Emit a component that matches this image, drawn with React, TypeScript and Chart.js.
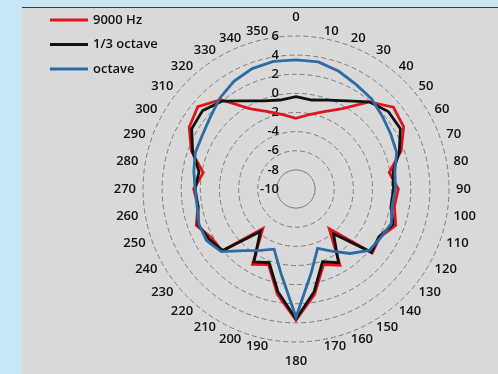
import React, { useEffect, useRef } from "react";
import { Chart, registerables } from "chart.js";

Chart.register(...registerables);

// Angle categories (degrees), clockwise from the top
const angleLabels = [
  "0", "10", "20", "30", "40", "50", "60", "70", "80", "90", "100", "110",
  "120", "130", "140", "150", "160", "170", "180", "190", "200", "210", "220", "230",
  "240", "250", "260", "270", "280", "290", "300", "310", "320", "330", "340", "350",
];

// Radial tick labels (dB)
const radialTicks = [-10, -8, -6, -4, -2, 0, 2, 4, 6];

// Series values, one per angle
const hz9000 = [
  -2.6, -2.1, -1.4, -0.3, 1.9, 3.3, 3.0, 1.7, -0.1, 0.7, 0.45, 1.1,
  0.1, 0.4, -4.6, -0.8, -1.6, 1.2, 3.7, 1.2, -1.6, -0.9, -4.6, 0.1,
  0.2, 1.1, 0.4, 0.7, -0.15, 1.65, 2.9, 3.4, 2.2, -0.3, -1.4, -2.1,
];
const thirdOctave = [
  -0.35, -0.55, -0.1, 0.65, 1.9, 2.6, 2.6, 1.5, 0.3, 0.2, 0.1, 0.8,
  0.0, 0.3, -3.9, -1.1, -1.9, 0.9, 3.6, 0.9, -1.8, -1.2, -4.2, 0.0,
  0.5, 0.9, 0.4, 0.55, 0.3, 1.5, 2.6, 2.75, 2.0, 0.65, -0.2, -0.55,
];
const octave = [
  3.5, 3.5, 3.1, 2.6, 2.3, 1.8, 1.45, 1.2, 0.5, 0.4, 0.2, 0.6,
  0.2, 0.0, -1.2, -2.5, -3.4, -1.0, 3.4, -1.0, -3.3, -2.6, -1.6, 0.2,
  0.8, 0.8, 0.5, 0.55, 0.85, 1.2, 1.3, 1.7, 2.4, 3.0, 3.4, 3.55,
];

const seriesNames = ["9000 Hz", "1/3 octave", "octave"];
const seriesColors = ["#e2141c", "#111111", "#2d6ba3"];

const TEXT_FONT = '600 13px "Open Sans", "Noto Sans", sans-serif';

const textPlugin = {
  id: "polarText",
  beforeDatasetsDraw(chart: any) {
    const s = chart.scales.r;
    const ctx = chart.ctx;
    ctx.save();
    ctx.font = TEXT_FONT;
    ctx.fillStyle = "#111111";
    // radial tick labels along the vertical axis
    ctx.textAlign = "right";
    ctx.textBaseline = "middle";
    radialTicks.forEach((v) => {
      const d = s.getDistanceFromCenterForValue(v);
      ctx.fillText(String(v), s.xCenter - 17, s.yCenter - d);
    });
    // angle labels
    const n = angleLabels.length;
    angleLabels.forEach((lab, i) => {
      const deg = (360 / n) * i;
      const onAxis = deg % 180 === 0;
      const dist = s.drawingArea + (onAxis ? 19 : 7);
      const p = s.getPointPosition(i, dist);
      ctx.textBaseline = "middle";
      ctx.textAlign = onAxis ? "center" : deg < 180 ? "left" : "right";
      ctx.fillText(lab, p.x, p.y);
    });
    ctx.restore();
  },
  afterDraw(chart: any) {
    const ctx = chart.ctx;
    ctx.save();
    ctx.font = TEXT_FONT;
    ctx.textAlign = "left";
    ctx.textBaseline = "middle";
    chart.data.datasets.forEach((ds: any, i: number) => {
      const y = 20 + i * 24.5;
      ctx.strokeStyle = ds.borderColor;
      ctx.lineWidth = 3;
      ctx.beginPath();
      ctx.moveTo(50, y);
      ctx.lineTo(88, y);
      ctx.stroke();
      ctx.fillStyle = "#111111";
      ctx.fillText(ds.label, 93, y);
    });
    ctx.restore();
  },
};

export default function App() {
  const canvasRef = useRef<HTMLCanvasElement | null>(null);

  useEffect(() => {
    if (!canvasRef.current) return;
    const values = [hz9000, thirdOctave, octave];
    const chart = new Chart(canvasRef.current, {
      type: "radar",
      data: {
        labels: angleLabels,
        datasets: values.map((arr, i) => ({
          label: seriesNames[i],
          data: arr,
          borderColor: seriesColors[i],
          backgroundColor: seriesColors[i],
          borderWidth: 2.8,
          pointRadius: 0,
          pointHoverRadius: 0,
          fill: false,
          tension: 0,
          order: 3 - i,
        })),
      },
      options: {
        responsive: false,
        animation: false,
        devicePixelRatio: 1,
        layout: { padding: { left: 143, top: 36, right: 49, bottom: 32 } },
        plugins: {
          legend: { display: false },
          tooltip: { enabled: false },
        },
        scales: {
          r: {
            min: -10,
            max: 6,
            ticks: { stepSize: 2, display: false },
            grid: { circular: true, color: "#7c7c7c", lineWidth: 1 },
            border: {
              dash: (ctx: any) => (ctx.tick && ctx.tick.value === -8 ? [] : [5, 3]),
            } as any,
            angleLines: { display: false },
            pointLabels: { display: false },
          },
        },
      },
      plugins: [textPlugin],
    } as any);
    return () => chart.destroy();
  }, []);

  return (
    <div
      style={{
        position: "fixed",
        left: 0,
        top: 0,
        width: 498,
        height: 374,
        overflow: "hidden",
        background: "#c9e6f7",
      }}
    >
      <div
        style={{
          position: "absolute",
          left: 22,
          top: 7,
          right: 0,
          bottom: 0,
          background: "#d9d9d9",
          borderTop: "1px solid #3c3c3c",
        }}
      />
      <canvas
        ref={canvasRef}
        width={498}
        height={374}
        style={{ position: "absolute", left: 0, top: 0 }}
      />
    </div>
  );
}
